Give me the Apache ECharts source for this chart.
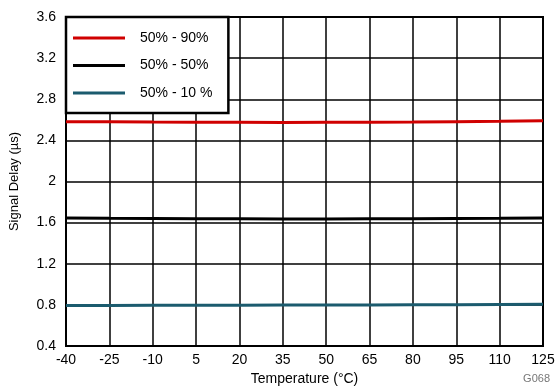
<!DOCTYPE html>
<html><head><meta charset="utf-8">
<script src="https://cdn.jsdelivr.net/npm/echarts@6/dist/echarts.min.js"></script>
<style>html,body{margin:0;padding:0;background:#fff}#c{width:558px;height:388px}</style>
</head><body><div id="c"></div>
<script>
const temps = [-40, -25, -10, 5, 20, 35, 50, 65, 80, 95, 110, 125];
const s90 = [2.582, 2.580, 2.578, 2.577, 2.576, 2.575, 2.576, 2.577, 2.579, 2.582, 2.585, 2.590];
const s50 = [1.645, 1.642, 1.640, 1.638, 1.637, 1.636, 1.636, 1.637, 1.638, 1.640, 1.642, 1.645];
const s10 = [0.795, 0.795, 0.796, 0.796, 0.797, 0.798, 0.799, 0.800, 0.801, 0.802, 0.804, 0.806];
const names = ['50% - 90%', '50% - 50%', '50% - 10 %'];
const colors = ['#d00000', '#000000', '#1b5b6e'];
const yTicks = [0.4, 0.8, 1.2, 1.6, 2, 2.4, 2.8, 3.2, 3.6];

const chart = echarts.init(document.getElementById('c'));
const font = 'Liberation Sans, Arial, sans-serif';
function mk(name, vals, color) {
  return { name, type: 'line', data: temps.map((t, i) => [t, vals[i]]), showSymbol: false,
    lineStyle: { color, width: 3 }, itemStyle: { color }, z: 5 };
}
chart.setOption({
  animation: false,
  grid: { left: 66, right: 15, top: 17, bottom: 42, show: true, borderColor: '#000', borderWidth: 2,
    containLabel: false, outerBoundsMode: 'none' },
  xAxis: { type: 'value', min: -40, max: 125, interval: 15,
    name: 'Temperature (°C)', nameLocation: 'middle', nameGap: 26,
    nameTextStyle: { fontFamily: font, fontSize: 14, color: '#000' },
    axisLine: { onZero: false, lineStyle: { color: '#000', width: 2 } }, axisTick: { show: false },
    axisLabel: { fontFamily: font, fontSize: 14, color: '#000', margin: 7 },
    splitLine: { show: true, lineStyle: { color: '#000', width: 1.5 } } },
  yAxis: { type: 'value', min: 0.4, max: 3.6, interval: 0.4,
    name: 'Signal Delay (µs)', nameLocation: 'middle', nameGap: 45,
    nameTextStyle: { fontFamily: font, fontSize: 13, color: '#000' },
    axisLine: { onZero: false, lineStyle: { color: '#000', width: 2 } }, axisTick: { show: false },
    axisLabel: { fontFamily: font, fontSize: 14, color: '#000', margin: 10,
      formatter: v => { const t = yTicks.find(x => Math.abs(x - v) < 1e-6); return t === undefined ? '' : String(t); } },
    splitLine: { show: true, lineStyle: { color: '#000', width: 1.5 } } },
  legend: { orient: 'vertical', left: 66, top: 17, data: names,
    backgroundColor: '#fff', borderColor: '#000', borderWidth: 2.5,
    padding: [14, 16, 13, 7], itemGap: 13.5, itemWidth: 52, itemHeight: 3,
    icon: 'rect', textStyle: { fontFamily: font, fontSize: 14, color: '#000', padding: [0, 0, 0, 10] } },
  graphic: [{ type: 'text', right: 8, bottom: 4,
    style: { text: 'G068', fontFamily: font, fontSize: 11, fill: '#777' } }],
  series: [mk(names[0], s90, colors[0]), mk(names[1], s50, colors[1]), mk(names[2], s10, colors[2])]
});
</script></body></html>
